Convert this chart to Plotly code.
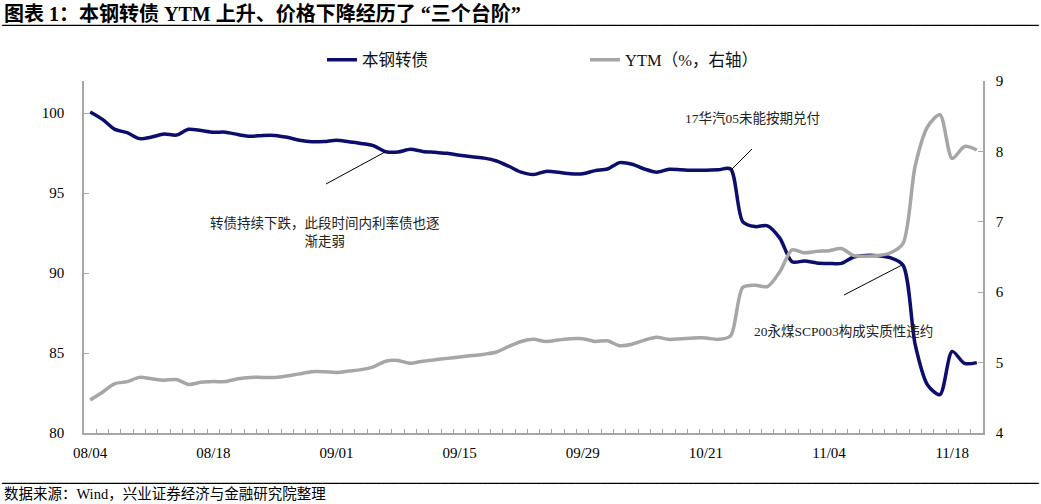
import plotly.graph_objects as go

dates = [
    "08/04", "08/05", "08/06", "08/07", "08/10", "08/11", "08/12", "08/13", "08/14", "08/17",
    "08/18", "08/19", "08/20", "08/21", "08/24", "08/25", "08/26", "08/27", "08/28", "08/31",
    "09/01", "09/02", "09/03", "09/04", "09/07", "09/08", "09/09", "09/10", "09/11", "09/14",
    "09/15", "09/16", "09/17", "09/18", "09/21", "09/22", "09/23", "09/24", "09/25", "09/28",
    "09/29", "09/30", "10/09", "10/12", "10/13", "10/14", "10/15", "10/16", "10/19", "10/20",
    "10/21", "10/22", "10/23", "10/26", "10/27", "10/28", "10/29", "10/30", "11/02", "11/03",
    "11/04", "11/05", "11/06", "11/09", "11/10", "11/11", "11/12", "11/13", "11/16", "11/17",
    "11/18", "11/19", "11/20",
]
tick_labels = ["08/04", "08/18", "09/01", "09/15", "09/29", "10/21", "11/04", "11/18"]

price = [
    100.06, 99.6, 98.98, 98.77, 98.4, 98.5, 98.69, 98.62, 98.98, 98.9,
    98.8, 98.8, 98.65, 98.54, 98.6, 98.6, 98.48, 98.3, 98.2, 98.22,
    98.3, 98.2, 98.1, 97.96, 97.58, 97.56, 97.73, 97.6, 97.54, 97.48,
    97.36, 97.26, 97.18, 97.0, 96.67, 96.3, 96.15, 96.35, 96.3, 96.2,
    96.2, 96.4, 96.5, 96.9, 96.8, 96.5, 96.3, 96.48, 96.45, 96.42,
    96.42, 96.45, 96.5, 93.2, 92.9, 92.95, 92.18, 90.7, 90.75, 90.63,
    90.6, 90.6, 91.0, 91.1, 91.08, 90.95, 90.5, 85.5, 83.0, 82.4,
    85.1, 84.35, 84.4,
]
ytm = [
    4.47, 4.58, 4.70, 4.73, 4.79, 4.77, 4.75, 4.76, 4.69, 4.72,
    4.73, 4.73, 4.77, 4.79, 4.79, 4.79, 4.81, 4.84, 4.87, 4.87,
    4.86, 4.88, 4.90, 4.94, 5.02, 5.03, 4.99, 5.02, 5.04, 5.06,
    5.08, 5.10, 5.12, 5.15, 5.23, 5.30, 5.33, 5.30, 5.32, 5.34,
    5.34, 5.30, 5.31, 5.24, 5.26, 5.32, 5.36, 5.33, 5.34, 5.35,
    5.35, 5.33, 5.38, 6.07, 6.10, 6.08, 6.29, 6.60, 6.56, 6.58,
    6.59, 6.62, 6.52, 6.51, 6.52, 6.56, 6.69, 7.80, 8.35, 8.52,
    7.90, 8.07, 8.02,
]

W, H = 1041, 504
L, R, T, B = 84, 983, 81, 433
FONT = "Liberation Serif, Noto Sans CJK SC, serif"
AXIS_COLOR = "#A6A6A6"


def px(X):
    return (X - L) / (R - L)


def py(Y):
    return (B - Y) / (B - T)


fig = go.Figure()
fig.add_trace(go.Scatter(
    x=dates, y=price, name="本钢转债", mode="lines",
    line=dict(color="#0D0D6B", width=3.5, shape="spline", smoothing=0.8),
    yaxis="y",
))
fig.add_trace(go.Scatter(
    x=dates, y=ytm, name="YTM（%，右轴）", mode="lines",
    line=dict(color="#A6A6A6", width=3.5, shape="spline", smoothing=0.8),
    yaxis="y2",
))

fig.update_layout(
    width=W, height=H,
    margin=dict(l=L, r=W - R, t=T, b=H - B, pad=0),
    paper_bgcolor="white", plot_bgcolor="white",
    font=dict(family=FONT, size=15, color="black"),
    showlegend=True,
    legend=dict(
        orientation="h", x=px(322), xanchor="left", y=py(60), yanchor="middle",
        font=dict(family=FONT, size=16.5, color="#111111"),
        entrywidth=218, entrywidthmode="pixels",
        bgcolor="rgba(0,0,0,0)",
    ),
    xaxis=dict(
        type="category", range=[-0.5, len(dates) - 0.5],
        tickmode="array", tickvals=dates,
        ticktext=[d if d in tick_labels else "" for d in dates],
        tickson="boundaries", ticks="inside", ticklen=4, tickwidth=1, tickcolor=AXIS_COLOR,
        showline=True, linecolor=AXIS_COLOR, linewidth=1.5,
        showgrid=False, zeroline=False,
        tickfont=dict(family=FONT, size=15, color="black"),
        tickangle=0, ticklabelstandoff=5,
    ),
    yaxis=dict(
        range=[80, 102], tickmode="array", tickvals=[80, 85, 90, 95, 100],
        ticks="inside", ticklen=5, tickcolor=AXIS_COLOR,
        showline=True, linecolor=AXIS_COLOR, linewidth=1.5,
        showgrid=False, zeroline=False,
        tickfont=dict(family=FONT, size=15, color="black"),
        ticklabelstandoff=15,
    ),
    yaxis2=dict(
        range=[4, 9], tickmode="array", tickvals=[4, 5, 6, 7, 8, 9],
        overlaying="y", side="right",
        ticks="inside", ticklen=5, tickcolor=AXIS_COLOR,
        showline=True, linecolor=AXIS_COLOR, linewidth=1.5,
        showgrid=False, zeroline=False,
        tickfont=dict(family=FONT, size=15, color="black"),
        ticklabelstandoff=8,
    ),
)

# title and footer
fig.add_annotation(
    xref="paper", yref="paper", x=px(2), y=py(13), xanchor="left", yanchor="middle",
    text="<b>图表 1：本钢转债 YTM 上升、价格下降经历了 “三个台阶”</b>",
    showarrow=False, font=dict(family="Liberation Serif, Noto Sans CJK SC", size=20, color="black"),
)
fig.add_annotation(
    xref="paper", yref="paper", x=px(2), y=py(494), xanchor="left", yanchor="middle",
    text="数据来源：Wind，兴业证券经济与金融研究院整理",
    showarrow=False, font=dict(family=FONT, size=14.5, color="black"),
)
# separator rules in the margins, drawn with box-drawing glyphs in a monospace font
RULE = "─" * 123
for rule_y in (25, 483):
    fig.add_annotation(
        xref="paper", yref="paper", x=px(0), y=py(rule_y), xanchor="left", yanchor="middle",
        text=RULE, showarrow=False, borderpad=0,
        font=dict(family="DejaVu Sans Mono", size=14, color="black"),
    )

# callouts
notes = [
    ("转债持续下跌，此段时间内利率债也逐<br>渐走弱", 325, 232, (326, 184), (385, 152)),
    ("17华汽05未能按期兑付", 752, 119, (731, 170), (752, 149)),
    ("20永煤SCP003构成实质性违约", 843, 331, (844, 295), (902, 265)),
]
for txt, cx, cy, p0, p1 in notes:
    fig.add_annotation(
        xref="paper", yref="paper", x=px(cx), y=py(cy), xanchor="center", yanchor="middle",
        text=txt, showarrow=False, align="center",
        font=dict(family=FONT, size=13.5, color="#222222"),
    )
    fig.add_shape(type="line", xref="paper", yref="paper",
                  x0=px(p0[0]), y0=py(p0[1]), x1=px(p1[0]), y1=py(p1[1]),
                  line=dict(color="black", width=1))

fig.write_html(
    "out.html",
    config={"displaylogo": False, "displayModeBar": False},
    post_script="document.body.style.margin='0';document.body.style.padding='0';"
                "document.documentElement.style.overflow='hidden';",
)
